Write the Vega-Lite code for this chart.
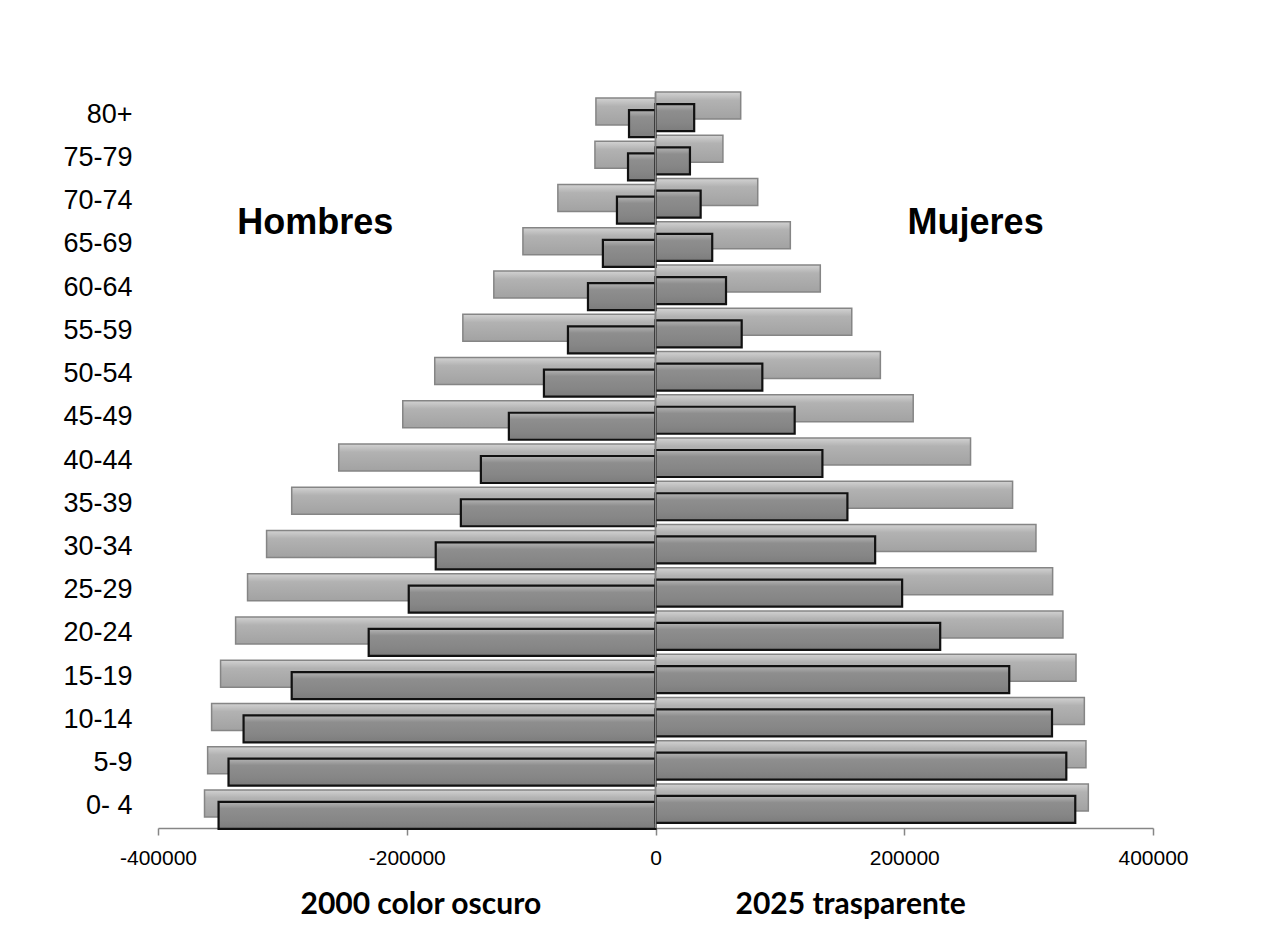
{
  "$schema": "https://vega.github.io/schema/vega-lite/v6.json",
  "autosize": {"type": "none"},
  "width": 995,
  "height": 735,
  "padding": {"left": 158, "top": 93, "right": 113, "bottom": 110},
  "background": "white",
  "config": {"view": {"stroke": null}, "font": "Liberation Sans"},
  "data": {
    "values": [
      {"age": "80+", "h2000": -21300, "h2025": -47900, "m2000": 31100, "m2025": 68500},
      {"age": "75-79", "h2000": -22100, "h2025": -48700, "m2000": 27700, "m2025": 54200},
      {"age": "70-74", "h2000": -31000, "h2025": -78500, "m2000": 36300, "m2025": 82200},
      {"age": "65-69", "h2000": -42300, "h2025": -106600, "m2000": 45600, "m2025": 108400},
      {"age": "60-64", "h2000": -54300, "h2025": -130000, "m2000": 56700, "m2025": 132500},
      {"age": "55-59", "h2000": -70400, "h2025": -154900, "m2000": 69300, "m2025": 157800},
      {"age": "50-54", "h2000": -89700, "h2025": -177500, "m2000": 85900, "m2025": 180800},
      {"age": "45-49", "h2000": -117900, "h2025": -203200, "m2000": 111900, "m2025": 207200},
      {"age": "40-44", "h2000": -140400, "h2025": -254700, "m2000": 134200, "m2025": 253300},
      {"age": "35-39", "h2000": -156500, "h2025": -292500, "m2000": 154300, "m2025": 287100},
      {"age": "30-34", "h2000": -176700, "h2025": -312700, "m2000": 176600, "m2025": 305900},
      {"age": "25-29", "h2000": -198400, "h2025": -328000, "m2000": 198300, "m2025": 319300},
      {"age": "20-24", "h2000": -230600, "h2025": -337600, "m2000": 228900, "m2025": 327600},
      {"age": "15-19", "h2000": -292500, "h2025": -349700, "m2000": 284400, "m2025": 338100},
      {"age": "10-14", "h2000": -331200, "h2025": -356900, "m2000": 318800, "m2025": 344800},
      {"age": "5-9", "h2000": -343300, "h2025": -360100, "m2000": 330300, "m2025": 346100},
      {"age": "0- 4", "h2000": -351300, "h2025": -362600, "m2000": 337500, "m2025": 348000}
    ]
  },
  "layer": [
    {
      "mark": {
        "type": "bar", "height": 27, "yOffset": -3, "stroke": "#858585", "strokeWidth": 1.5,
        "fill": {"gradient": "linear", "x1": 0, "y1": 0, "x2": 0, "y2": 1,
          "stops": [{"offset": 0, "color": "#d2d2d2"}, {"offset": 0.3, "color": "#b2b2b2"}, {"offset": 0.7, "color": "#a9a9a9"}, {"offset": 1, "color": "#a2a2a2"}]}
      },
      "encoding": {
        "y": {"field": "age", "type": "nominal", "sort": ["80+", "75-79", "70-74", "65-69", "60-64", "55-59", "50-54", "45-49", "40-44", "35-39", "30-34", "25-29", "20-24", "15-19", "10-14", "5-9", "0- 4"],
          "scale": {"paddingInner": 0, "paddingOuter": 0},
          "axis": {"title": null, "domain": false, "ticks": false, "labelFontSize": 27, "labelPadding": 26, "labelColor": "black", "labelFont": "Liberation Sans"}},
        "x": {"field": "h2025", "type": "quantitative", "scale": {"domain": [-400000, 400000], "nice": false, "zero": false},
          "axis": {"title": null, "values": [-400000, -200000, 0, 200000, 400000], "labelExpr": "toString(datum.value)", "labelFlush": false, "labelOverlap": false, "grid": false, "labelFontSize": 21, "labelColor": "black", "domainColor": "#868686", "domainWidth": 1.5, "tickColor": "#868686", "tickWidth": 1.5, "tickSize": 7, "labelPadding": 12, "labelFont": "Liberation Sans"}}
      }
    },
    {
      "mark": {
        "type": "bar", "height": 27, "yOffset": -9, "stroke": "#858585", "strokeWidth": 1.5,
        "fill": {"gradient": "linear", "x1": 0, "y1": 0, "x2": 0, "y2": 1,
          "stops": [{"offset": 0, "color": "#d2d2d2"}, {"offset": 0.3, "color": "#b2b2b2"}, {"offset": 0.7, "color": "#a9a9a9"}, {"offset": 1, "color": "#a2a2a2"}]}
      },
      "encoding": {
        "y": {"field": "age", "type": "nominal", "sort": ["80+", "75-79", "70-74", "65-69", "60-64", "55-59", "50-54", "45-49", "40-44", "35-39", "30-34", "25-29", "20-24", "15-19", "10-14", "5-9", "0- 4"]},
        "x": {"field": "m2025", "type": "quantitative", "title": null}
      }
    },
    {
      "mark": {
        "type": "bar", "height": 27, "yOffset": 9, "stroke": "#111111", "strokeWidth": 2.2,
        "fill": {"gradient": "linear", "x1": 0, "y1": 0, "x2": 0, "y2": 1,
          "stops": [{"offset": 0, "color": "#b4b4b4"}, {"offset": 0.25, "color": "#8e8e8e"}, {"offset": 0.7, "color": "#868686"}, {"offset": 1, "color": "#7c7c7c"}]}
      },
      "encoding": {
        "y": {"field": "age", "type": "nominal", "sort": ["80+", "75-79", "70-74", "65-69", "60-64", "55-59", "50-54", "45-49", "40-44", "35-39", "30-34", "25-29", "20-24", "15-19", "10-14", "5-9", "0- 4"]},
        "x": {"field": "h2000", "type": "quantitative", "title": null}
      }
    },
    {
      "mark": {
        "type": "bar", "height": 27, "yOffset": 3, "stroke": "#111111", "strokeWidth": 2.2,
        "fill": {"gradient": "linear", "x1": 0, "y1": 0, "x2": 0, "y2": 1,
          "stops": [{"offset": 0, "color": "#b4b4b4"}, {"offset": 0.25, "color": "#8e8e8e"}, {"offset": 0.7, "color": "#868686"}, {"offset": 1, "color": "#7c7c7c"}]}
      },
      "encoding": {
        "y": {"field": "age", "type": "nominal", "sort": ["80+", "75-79", "70-74", "65-69", "60-64", "55-59", "50-54", "45-49", "40-44", "35-39", "30-34", "25-29", "20-24", "15-19", "10-14", "5-9", "0- 4"]},
        "x": {"field": "m2000", "type": "quantitative", "title": null}
      }
    },
    {
      "data": {"values": [{"zero": 0}]},
      "mark": {"type": "rule", "color": "#868686", "strokeWidth": 1.5},
      "encoding": {"x": {"field": "zero", "type": "quantitative", "title": null}}
    },
    {
      "data": {"values": [{"label": "Hombres", "xv": -273600, "age": "70-74"}, {"label": "Mujeres", "xv": 257400, "age": "70-74"}]},
      "mark": {"type": "text", "fontSize": 36, "fontWeight": "bold", "font": "Liberation Sans", "color": "black", "baseline": "middle", "align": "center"},
      "encoding": {
        "x": {"field": "xv", "type": "quantitative", "title": null},
        "y": {"field": "age", "type": "nominal", "bandPosition": 1, "sort": ["80+", "75-79", "70-74", "65-69", "60-64", "55-59", "50-54", "45-49", "40-44", "35-39", "30-34", "25-29", "20-24", "15-19", "10-14", "5-9", "0- 4"]},
        "text": {"field": "label"}
      }
    },
    {
      "data": {"values": [{"label": "2000 color oscuro", "xv": -188700, "age": "0- 4"}, {"label": "2025 trasparente", "xv": 156900, "age": "0- 4"}]},
      "mark": {"type": "text", "fontSize": 30, "fontWeight": "bold", "font": "Lato", "color": "black", "baseline": "middle", "align": "center", "dy": 99},
      "encoding": {
        "x": {"field": "xv", "type": "quantitative", "title": null},
        "y": {"field": "age", "type": "nominal", "sort": ["80+", "75-79", "70-74", "65-69", "60-64", "55-59", "50-54", "45-49", "40-44", "35-39", "30-34", "25-29", "20-24", "15-19", "10-14", "5-9", "0- 4"]},
        "text": {"field": "label"}
      }
    }
  ]
}
